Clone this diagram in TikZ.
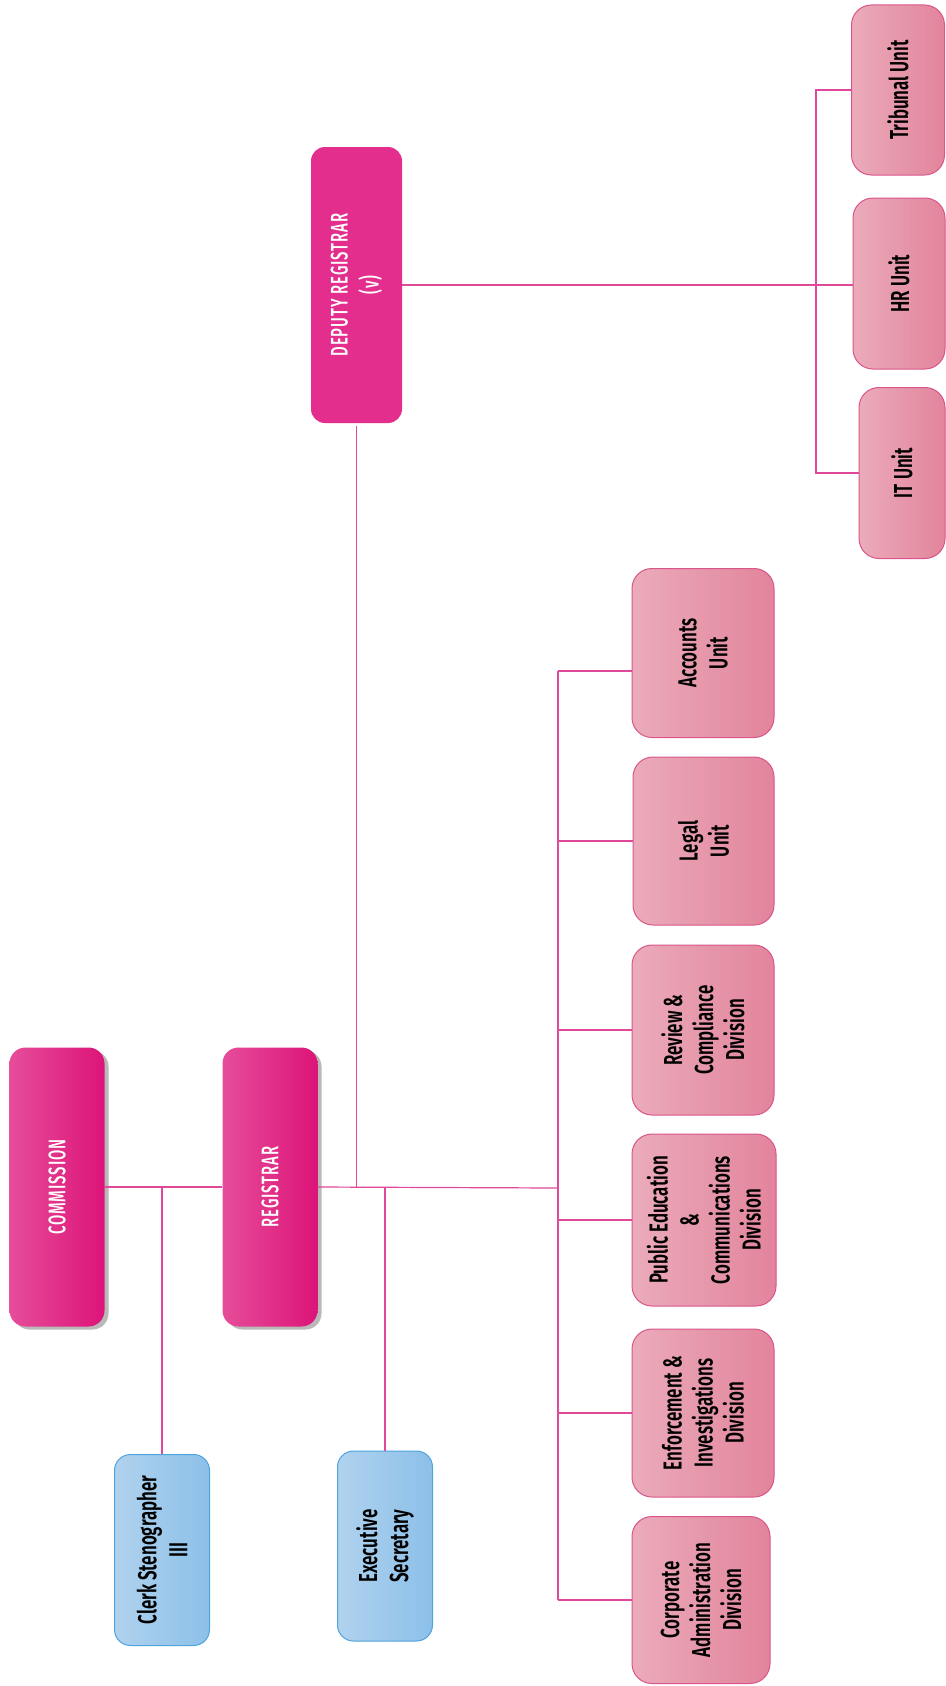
\documentclass[tikz,border=0pt]{standalone}
\usepackage{fontspec}
\setmainfont{Fira Sans}
\newfontfamily\agency[FakeStretch=0.65]{Fira Sans SemiBold}
\newfontfamily\agencyW[FakeStretch=0.62,LetterSpace=4]{Fira Sans Medium}
\usetikzlibrary{shadows,calc}
\definecolor{lineC}{HTML}{E0489A}
\definecolor{pkL}{HTML}{EBABBA}
\definecolor{pkR}{HTML}{E2849C}
\definecolor{pkB}{HTML}{D9558A}
\definecolor{mgL}{HTML}{E64D9A}
\definecolor{mgR}{HTML}{DD1478}
\definecolor{dep}{HTML}{E32E8E}
\definecolor{blL}{HTML}{B0D2EE}
\definecolor{blR}{HTML}{8CC0E9}
\definecolor{blB}{HTML}{4FA3DE}
\tikzset{
  conn/.style={draw=lineC, line width=1.2pt},
  pinkbox/.style={rounded corners=20pt, left color=pkL, right color=pkR, draw=pkB, line width=1pt, inner sep=0pt},
  bluebox/.style={rounded corners=16pt, left color=blL, right color=blR, draw=blB, line width=1pt, inner sep=0pt},
  topbox/.style={rounded corners=16pt, left color=mgL, right color=mgR, draw=none, inner sep=0pt,
     drop shadow={shadow xshift=4pt, shadow yshift=-3pt, fill=black!50, opacity=0.55}},
  depbox/.style={rounded corners=14pt, fill=dep, draw=none, inner sep=0pt},
  txt/.style={rotate=90, align=center, font=\agency\fontsize{26}{31}\selectfont, text=black},
  wtxt/.style={rotate=90, align=center, font=\agencyW\fontsize{24}{31}\selectfont, text=white},
}
\begin{document}
\begin{tikzpicture}[x=1pt,y=-1pt]
\useasboundingbox[fill=white] (0,0) rectangle (945,1686);
% top level
\node[topbox, minimum width=95, minimum height=279] (com) at (57,1187) {};
\node[wtxt] (comt) at (com) {COMMISSION};
\node[topbox, minimum width=95, minimum height=279] (reg) at (270,1187) {};
\node[wtxt] (regt) at (reg) {REGISTRAR};
\node[depbox, minimum width=91, minimum height=276] (dep) at (356.5,285) {};
\node[wtxt] (dept) at (dep) {DEPUTY REGISTRAR\\(v)};
% blue boxes
\node[bluebox, minimum width=95, minimum height=191] (clk) at (162,1550) {};
\node[txt] (clkt) at (clk) {Clerk Stenographer\\III};
\node[bluebox, minimum width=95, minimum height=190] (exs) at (385,1546) {};
\node[txt] (exst) at (exs) {Executive\\Secretary};
% right units
\node[pinkbox, minimum width=93, minimum height=170] (tri) at (898,90) {};
\node[txt] (trit) at (tri) {Tribunal Unit};
\node[pinkbox, minimum width=92, minimum height=171] (hr) at (899,283.5) {};
\node[txt] (hrt) at (hr) {HR Unit};
\node[pinkbox, minimum width=86, minimum height=171] (it) at (902,473) {};
\node[txt] (itt) at (it) {IT Unit};
% divisions
\node[pinkbox, minimum width=142, minimum height=169] (acc) at (703,653) {};
\node[txt] (acct) at (acc) {Accounts\\Unit};
\node[pinkbox, minimum width=141, minimum height=168] (leg) at (703.5,841) {};
\node[txt] (legt) at (leg) {Legal\\Unit};
\node[pinkbox, minimum width=142, minimum height=170] (rev) at (703,1030) {};
\node[txt] (revt) at (rev) {Review \&\\Compliance\\Division};
\node[pinkbox, minimum width=144, minimum height=172] (pub) at (704,1220) {};
\node[txt] (pubt) at (pub) {Public Education\\\&\\Communications\\Division};
\node[pinkbox, minimum width=142, minimum height=168] (enf) at (703,1413) {};
\node[txt] (enft) at (enf) {Enforcement \&\\Investigations\\Division};
\node[pinkbox, minimum width=138, minimum height=167] (cor) at (701,1600) {};
\node[txt] (cort) at (cor) {Corporate\\Administration\\Division};
% bus coordinates
\coordinate (lb) at (558,1188);
\coordinate (rb) at (816,286);
\coordinate (accin) at ([yshift=-18pt]acc.west);
% connectors
\draw[conn] (com.east) -- (reg.west);
\draw[conn] (com.east -| clk.north) -- (clk.north);
\draw[conn] (reg.east -| exs.north) -- (exs.north);
\draw[conn] (reg.east) -- (lb);
\draw[conn] ([yshift=-3pt]dep.south) -- (dep.south |- reg.east);
\draw[conn] (lb |- accin) -- (lb |- cor.west);
\draw[conn] (lb |- accin) -- (accin);
\foreach \n in {leg,rev,pub,enf,cor} \draw[conn] (lb |- \n.west) -- (\n.west);
\draw[conn] (dep.east) -- (dep.east -| hr.west);
\draw[conn] (tri.west) -- (rb |- tri.west) -- (rb |- it.west) -- (it.west);
\end{tikzpicture}
\end{document}
